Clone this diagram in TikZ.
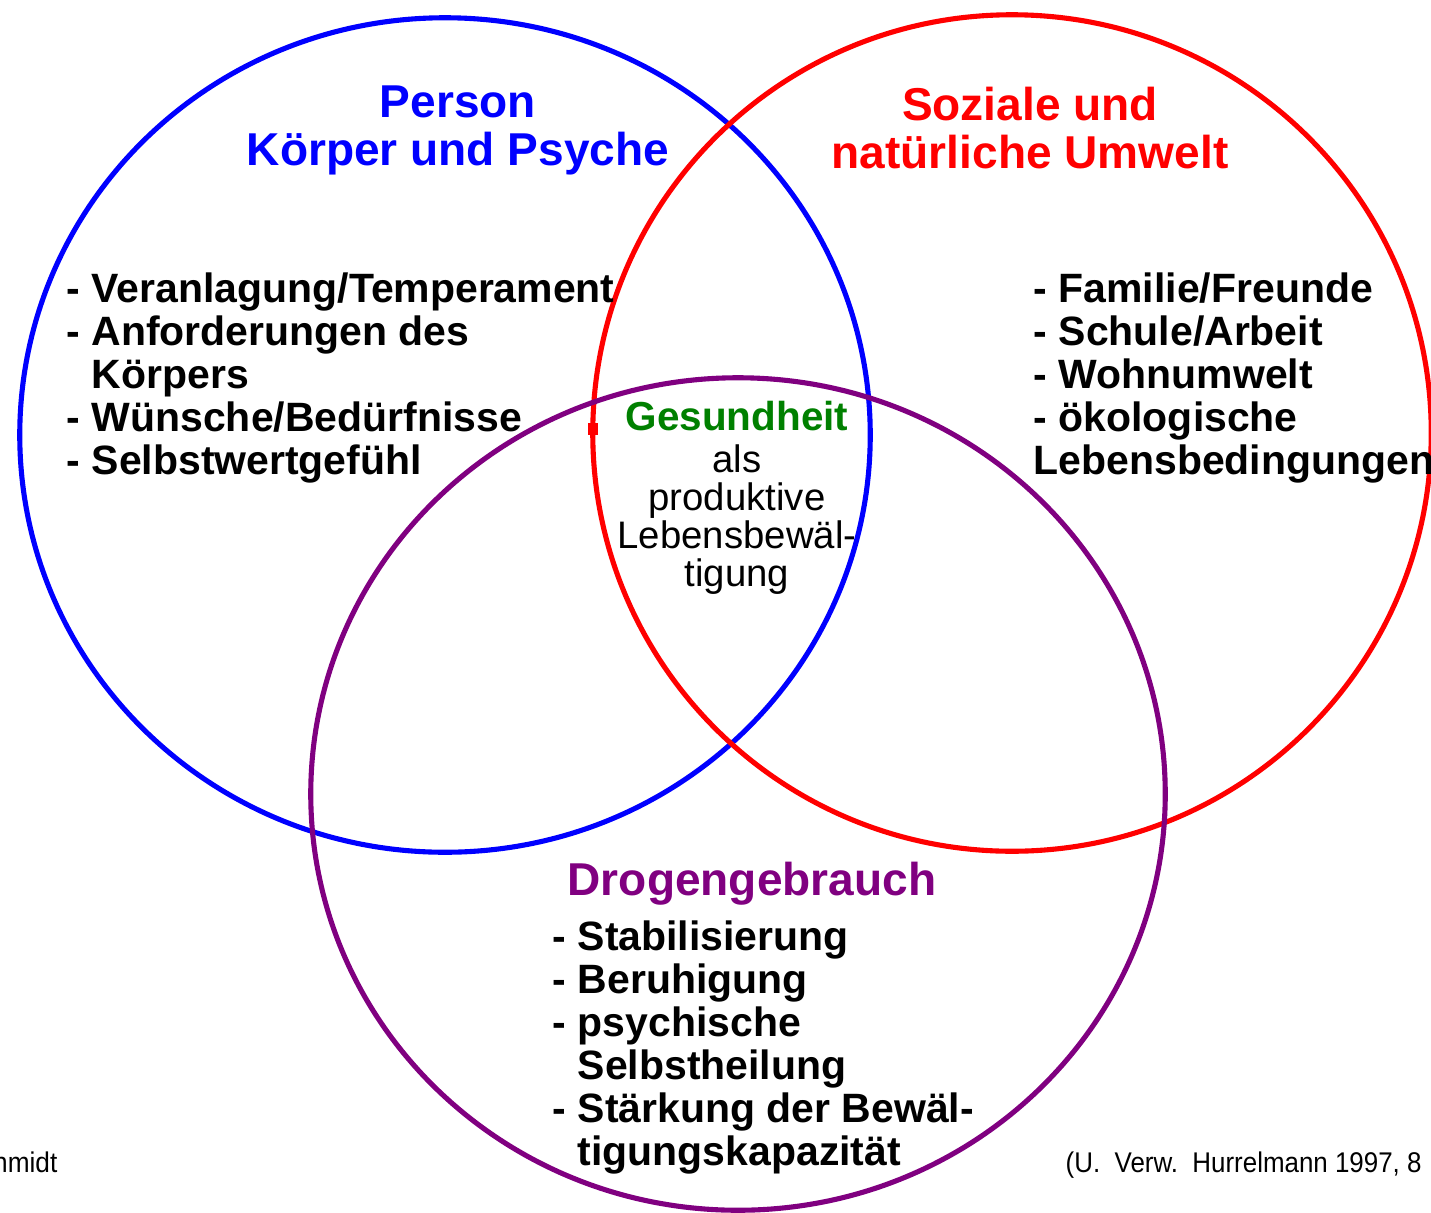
\documentclass[tikz,border=0pt]{standalone}
\usepackage{fontspec}
\setmainfont{Liberation Sans}
\definecolor{pblue}{RGB}{0,0,255}
\definecolor{pred}{RGB}{255,0,0}
\definecolor{ppurple}{RGB}{128,0,128}
\definecolor{pgreen}{RGB}{0,128,0}
\tikzset{
  ring/.style={line width=1.45pt},
  title/.style={font=\bfseries\fontsize{13.1}{13.7}\selectfont, inner sep=0pt, anchor=base},
  itemlist/.style={font=\bfseries\fontsize{11.65}{12.23}\selectfont, inner sep=0pt, anchor=base west},
  centretext/.style={font=\fontsize{10.9}{9.8}\selectfont, inner sep=0pt, anchor=base},
  citation/.style={font=\fontsize{8.1}{9}\selectfont, inner sep=0pt},
}
\newcommand{\ind}{\phantom{- }}
\begin{document}
\begin{tikzpicture}[x=0.01cm, y=-0.01cm]
  \useasboundingbox (0,0) rectangle (1431,1212);
  \clip (0,0) rectangle (1431,1212);

  % the three overlapping spheres
  \draw[ring, pblue]   (445,435) ellipse [x radius=4.25cm, y radius=4.17cm];
  \draw[ring, pred]    (1012,433) ellipse [x radius=4.19cm, y radius=4.18cm];
  \draw[ring, ppurple] (738,794) ellipse [x radius=4.27cm, y radius=4.16cm];
  \fill[pred] (588,423) rectangle (598,435);

  % headings
  \node[title, text=pblue] (person) at (458,117) {Person};
  \node[title, text=pblue] (koerper) at (458,165) {Körper und Psyche};
  \node[title, text=pred] (sozial) at (1030,120) {Soziale und};
  \node[title, text=pred] (umwelt) at (1030,168) {natürliche Umwelt};
  \node[title, text=ppurple] (drogen) at (752,895) {Drogengebrauch};

  % lists
  \node[itemlist] (listperson) at (66,302) {\begin{tabular}[t]{@{}l@{}}
    - Veranlagung/Temperament\\
    - Anforderungen des\\
    \ind Körpers\\
    - Wünsche/Bedürfnisse\\
    - Selbstwertgefühl
  \end{tabular}};
  \node[itemlist] (listumwelt) at (1033,302) {\begin{tabular}[t]{@{}l@{}}
    - Familie/Freunde\\
    - Schule/Arbeit\\
    - Wohnumwelt\\
    - ökologische\\
    Lebensbedingungen
  \end{tabular}};
  \node[itemlist] (listdrogen) at (552,950) {\begin{tabular}[t]{@{}l@{}}
    - Stabilisierung\\
    - Beruhigung\\
    - psychische\\
    \ind Selbstheilung\\
    - Stärkung der Bewäl-\\
    \ind tigungskapazität
  \end{tabular}};

  % centre
  \node[title, font=\bfseries\fontsize{11.5}{12}\selectfont, text=pgreen] (gesund) at (737,430) {Gesundheit};
  \node[centretext] (bewaelt) at (737,472) {\begin{tabular}[t]{@{}c@{}}
    als\\ produktive\\ Lebensbewäl-\\ tigung
  \end{tabular}};

  % sources
  \node[citation, anchor=base east] (autor) at (58,1172) {\scalebox{0.92}[1]{hmidt}};
  \node[citation, anchor=base west] (quelle) at (1065,1172) {\scalebox{0.91}[1]{(U.\ \ Verw.\ \ Hurrelmann 1997, 8}};
\end{tikzpicture}
\end{document}
